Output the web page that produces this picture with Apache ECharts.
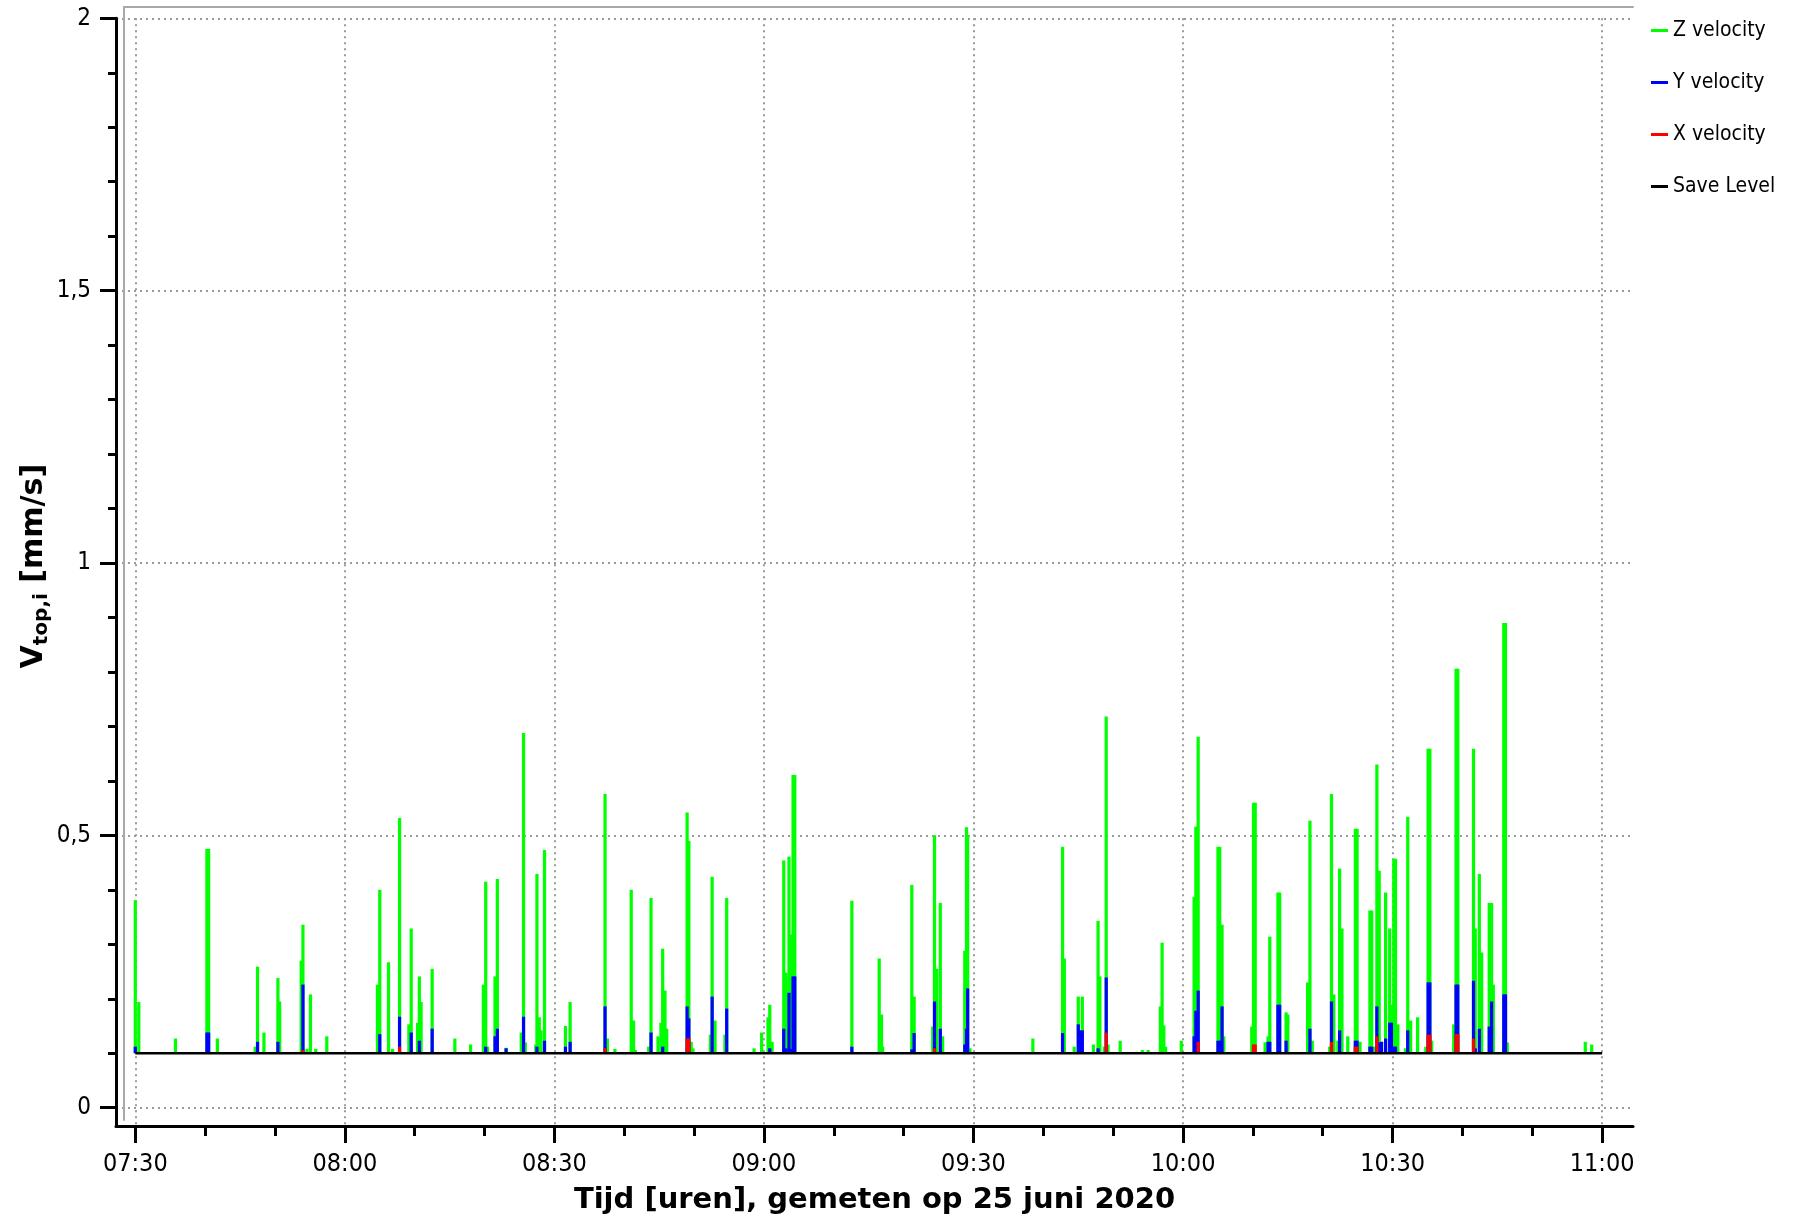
<!DOCTYPE html>
<html>
<head>
<meta charset="utf-8">
<script src="https://cdn.jsdelivr.net/npm/echarts@6/dist/echarts.min.js"></script>
<style>
html,body{margin:0;padding:0;background:#fff;}
#chart{width:1796px;height:1220px;}
</style>
</head>
<body>
<div id="chart"></div>
<script>
// ---- data (time hh:mm:ss, peak velocity mm/s) ----
const zVelocity = [
["07:30:00",0.381],["07:30:30",0.194],["07:35:45",0.127],["07:40:15",0.475],["07:40:30",0.475],["07:41:45",0.127],["07:47:10",0.112],["07:47:30",0.259],["07:48:25",0.138],["07:50:25",0.238],["07:50:40",0.195],["07:53:45",0.270],["07:54:00",0.336],["07:54:35",0.108],["07:55:05",0.208],["07:55:50",0.108],["07:57:25",0.131],
["08:04:40",0.226],["08:05:00",0.400],["08:06:15",0.267],["08:06:50",0.108],["08:07:50",0.532],["08:09:10",0.153],["08:09:30",0.329],["08:10:25",0.156],["08:10:40",0.241],["08:10:55",0.194],["08:12:30",0.255],["08:15:45",0.127],["08:18:00",0.116],["08:19:50",0.226],["08:20:10",0.415],["08:20:25",0.112],["08:21:30",0.241],["08:21:50",0.420],["08:23:05",0.110],["08:25:15",0.138],["08:25:35",0.688],["08:25:50",0.120],["08:27:20",0.116],["08:27:30",0.429],["08:27:50",0.166],["08:28:05",0.142],["08:28:35",0.473],["08:31:35",0.150],["08:32:15",0.194],["08:37:15",0.576],["08:37:35",0.127],["08:38:40",0.108],["08:41:00",0.400],["08:41:20",0.160],["08:41:35",0.106],["08:43:30",0.112],["08:43:50",0.385],["08:44:50",0.131],["08:45:15",0.156],["08:45:30",0.292],["08:45:50",0.215],["08:46:05",0.145],["08:49:00",0.542],["08:49:15",0.490],["08:49:35",0.121],["08:49:50",0.109],["08:52:20",0.134],["08:52:35",0.424],["08:53:00",0.160],["08:54:25",0.134],["08:54:40",0.385],["08:58:35",0.109],["08:59:40",0.138],
["09:00:35",0.166],["09:00:50",0.189],["09:01:10",0.121],["09:02:50",0.454],["09:03:10",0.248],["09:03:35",0.461],["09:03:50",0.318],["09:04:10",0.611],["09:04:25",0.611],["09:12:35",0.380],["09:16:30",0.274],["09:16:50",0.171],["09:17:00",0.112],["09:21:10",0.409],["09:21:30",0.204],["09:24:10",0.149],["09:24:25",0.500],["09:24:45",0.255],["09:25:15",0.376],["09:25:35",0.131],["09:28:45",0.288],["09:29:00",0.515],["09:29:10",0.500],["09:29:30",0.109],["09:38:30",0.127],["09:42:45",0.479],["09:43:00",0.274],["09:44:25",0.112],["09:45:00",0.204],["09:45:15",0.142],["09:45:35",0.204],["09:47:10",0.116],["09:47:50",0.343],["09:48:05",0.241],["09:48:45",0.112],["09:49:00",0.718],["09:49:15",0.116],["09:51:00",0.123],["09:54:10",0.106],["09:55:00",0.106],["09:56:45",0.186],["09:57:00",0.303],["09:57:15",0.151],["09:57:30",0.112],["09:59:45",0.123],
["10:01:35",0.387],["10:01:50",0.516],["10:02:10",0.681],["10:05:00",0.479],["10:05:15",0.479],["10:05:35",0.336],["10:05:50",0.131],["10:09:50",0.149],["10:10:05",0.560],["10:10:20",0.560],["10:11:45",0.120],["10:12:10",0.131],["10:12:25",0.314],["10:13:35",0.395],["10:13:50",0.395],["10:14:45",0.175],["10:15:00",0.171],["10:17:50",0.230],["10:18:10",0.527],["10:18:30",0.123],["10:21:00",0.112],["10:21:15",0.576],["10:21:35",0.208],["10:22:10",0.123],["10:22:25",0.439],["10:22:45",0.329],["10:23:35",0.131],["10:24:40",0.512],["10:24:55",0.512],["10:25:20",0.121],["10:26:45",0.362],["10:27:00",0.362],["10:27:15",0.112],["10:27:45",0.630],["10:28:05",0.435],["10:28:25",0.121],["10:29:00",0.395],["10:29:35",0.329],["10:29:50",0.189],["10:30:10",0.457],["10:30:25",0.457],["10:30:45",0.153],["10:31:50",0.109],["10:32:10",0.534],["10:32:35",0.160],["10:33:35",0.166],["10:34:45",0.112],["10:35:05",0.659],["10:35:20",0.659],["10:35:35",0.123],["10:38:45",0.153],["10:39:05",0.806],["10:39:20",0.806],["10:41:35",0.659],["10:41:50",0.329],["10:42:25",0.429],["10:42:45",0.285],["10:43:50",0.376],["10:44:10",0.376],["10:44:25",0.226],["10:45:55",0.890],["10:46:10",0.890],["10:46:25",0.120],["10:57:35",0.121],["10:58:30",0.116]
];
const yVelocity = [
["07:30:00",0.112],["07:40:15",0.138],["07:40:30",0.138],["07:47:30",0.121],["07:50:25",0.121],["07:54:00",0.226],["08:05:00",0.135],["08:07:50",0.167],["08:09:30",0.138],["08:10:40",0.123],["08:12:30",0.145],["08:20:10",0.112],["08:21:30",0.131],["08:21:50",0.145],["08:23:05",0.109],["08:25:35",0.167],["08:27:30",0.112],["08:28:35",0.123],["08:31:35",0.112],["08:32:15",0.121],["08:37:15",0.186],["08:43:50",0.138],["08:45:30",0.112],["08:49:00",0.186],["08:49:15",0.164],["08:52:35",0.204],["08:54:40",0.182],
["09:00:50",0.109],["09:02:50",0.145],["09:03:10",0.109],["09:03:35",0.211],["09:03:50",0.108],["09:04:10",0.241],["09:04:25",0.241],["09:12:35",0.112],["09:21:10",0.107],["09:21:30",0.137],["09:24:25",0.195],["09:25:15",0.145],["09:28:45",0.116],["09:29:00",0.145],["09:29:10",0.219],["09:42:45",0.137],["09:45:00",0.153],["09:45:15",0.142],["09:45:35",0.142],["09:47:50",0.109],["09:49:00",0.239],
["10:01:35",0.131],["10:01:50",0.178],["10:02:10",0.215],["10:05:00",0.123],["10:05:15",0.123],["10:05:35",0.186],["10:12:10",0.121],["10:12:25",0.121],["10:13:35",0.189],["10:13:50",0.189],["10:14:45",0.123],["10:18:10",0.145],["10:21:15",0.195],["10:22:25",0.142],["10:24:40",0.123],["10:24:55",0.123],["10:26:45",0.112],["10:27:00",0.112],["10:27:45",0.186],["10:28:05",0.120],["10:28:25",0.121],["10:29:00",0.127],["10:29:35",0.156],["10:29:50",0.156],["10:30:10",0.112],["10:30:25",0.112],["10:32:10",0.142],["10:35:05",0.230],["10:35:20",0.230],["10:39:05",0.226],["10:39:20",0.226],["10:41:35",0.233],["10:41:50",0.109],["10:42:25",0.145],["10:43:50",0.149],["10:44:10",0.195],["10:45:55",0.208],["10:46:10",0.208]
];
const xVelocity = [
["07:54:00",0.106],["08:07:50",0.112],["08:37:15",0.109],["08:49:00",0.127],["08:49:15",0.127],["09:24:25",0.109],["09:49:00",0.138],["10:02:10",0.121],["10:10:05",0.116],["10:10:20",0.116],["10:21:15",0.121],["10:24:40",0.112],["10:24:55",0.112],["10:27:45",0.131],["10:35:05",0.134],["10:35:20",0.134],["10:39:05",0.135],["10:39:20",0.135],["10:41:35",0.127]
];
const saveLevel = 0.1;
const saveLevelSpan = ["07:30:00","11:00:00"];
const xTickLabels = ["07:30","08:00","08:30","09:00","09:30","10:00","10:30","11:00"];
const xMinorTicks = ["07:40","07:50","08:10","08:20","08:40","08:50","09:10","09:20","09:40","09:50","10:10","10:20","10:40","10:50"];
const yTicks = [0, 0.5, 1, 1.5, 2];
const yMinorTicks = [0.1,0.2,0.3,0.4,0.6,0.7,0.8,0.9,1.1,1.2,1.3,1.4,1.6,1.7,1.8,1.9];

// ---- helpers ----
function toMin(s){ const p=s.split(':').map(Number); return p[0]*60+p[1]+(p[2]||0)/60; }
function fmt(m){ const h=Math.floor(m/60), mm=Math.round(m-h*60); return String(h).padStart(2,'0')+':'+String(mm).padStart(2,'0'); }
const HALF = 0.23; // half sample width in minutes
function render(color){
  return function(params, api){
    const t = api.value(0), v = api.value(1);
    const p0 = api.coord([t-HALF, saveLevel]);
    const p1 = api.coord([t+HALF, v]);
    return {type:'rect', shape:{x:p0[0], y:p1[1], width:p1[0]-p0[0], height:p0[1]-p1[1]}, style:{fill:color}};
  };
}
const FONT = "'DejaVu Sans Condensed', 'DejaVu Sans', sans-serif";
const TITLE_FONT = "'DejaVu Sans', sans-serif";
const PXMIN = 6.985;
const X_MIN = 450 - (135.3-116)/PXMIN, X_MAX = 450 + (1633-135.3)/PXMIN;
const Y_MIN = -0.0336, Y_MAX = 2;
const dotted = {show:true, lineStyle:{color:'#9a9a9a', width:2, type:[2,4]}};

const chart = echarts.init(document.getElementById('chart'), null, {renderer:'canvas'});
chart.setOption({
  animation:false,
  backgroundColor:'#fff',
  textStyle:{fontFamily:FONT},
  grid:[
    {left:116, right:163, top:18.3, bottom:93},
    {left:124, right:163, top:7, bottom:100}
  ],
  legend:{
    orient:'vertical', left:1646, top:15, itemWidth:17, itemHeight:3, itemGap:31,
    textStyle:{fontFamily:FONT, fontSize:21, color:'#000', lineHeight:21},
    data:[
      {name:'Z velocity', icon:'rect', itemStyle:{color:'#00ff00'}},
      {name:'Y velocity', icon:'rect', itemStyle:{color:'#0000ff'}},
      {name:'X velocity', icon:'rect', itemStyle:{color:'#ff0000'}},
      {name:'Save Level', icon:'rect', itemStyle:{color:'#000'}}
    ]
  },
  xAxis:[
    {type:'value', gridIndex:0, position:'bottom', min:X_MIN, max:X_MAX,
     axisLine:{show:true, onZero:false, lineStyle:{color:'#000', width:3}},
     axisTick:{show:true, length:17, customValues:xTickLabels.map(toMin), lineStyle:{color:'#000', width:3}},
     axisLabel:{show:true, customValues:xTickLabels.map(toMin), formatter:fmt, fontSize:25, margin:26, color:'#000', fontFamily:FONT},
     splitLine:dotted,
     name:'Tijd [uren], gemeten op 25 juni 2020', nameLocation:'middle', nameGap:60, nameMoveOverlap:false,
     nameTextStyle:{fontFamily:TITLE_FONT, fontSize:29, fontWeight:'bold', color:'#000'}},
    {type:'value', gridIndex:0, position:'bottom', min:X_MIN, max:X_MAX,
     axisLine:{show:false, onZero:false},
     axisTick:{show:true, length:10, customValues:xMinorTicks.map(toMin), lineStyle:{color:'#000', width:3}},
     axisLabel:{show:false}, splitLine:{show:false}},
    {type:'value', gridIndex:1, position:'top', min:0, max:1,
     axisLine:{show:true, onZero:false, lineStyle:{color:'#a8a8a8', width:2}},
     axisTick:{show:false}, axisLabel:{show:false}, splitLine:{show:false}}
  ],
  yAxis:[
    {type:'value', gridIndex:0, position:'left', min:Y_MIN, max:Y_MAX,
     axisLine:{show:true, onZero:false, lineStyle:{color:'#000', width:3}},
     axisTick:{show:true, length:16, customValues:yTicks, lineStyle:{color:'#000', width:3}},
     axisLabel:{show:true, customValues:yTicks, formatter:v=>String(v).replace('.',','), fontSize:24, margin:25, color:'#000', fontFamily:FONT},
     splitLine:dotted,
     name:'{v|V}{s|top,i}{v| [mm/s]}', nameLocation:'middle', nameRotate:90, nameGap:64, nameMoveOverlap:false,
     nameTextStyle:{padding:[0,0,0,12], rich:{
       v:{fontFamily:TITLE_FONT, fontSize:30, fontWeight:'bold', color:'#000'},
       s:{fontFamily:TITLE_FONT, fontSize:20, fontWeight:'bold', color:'#000', padding:[15,0,0,0]}
     }}},
    {type:'value', gridIndex:0, position:'left', min:Y_MIN, max:Y_MAX,
     axisLine:{show:false, onZero:false},
     axisTick:{show:true, length:8, customValues:yMinorTicks, lineStyle:{color:'#000', width:3}},
     axisLabel:{show:false}, splitLine:{show:false}},
    {type:'value', gridIndex:1, position:'left', min:0, max:1,
     axisLine:{show:true, onZero:false, lineStyle:{color:'#a8a8a8', width:2}},
     axisTick:{show:false}, axisLabel:{show:false}, splitLine:{show:false}}
  ],
  series:[
    {name:'Z velocity', type:'custom', xAxisIndex:0, yAxisIndex:0, renderItem:render('#00ff00'),
     encode:{x:0,y:1}, data:zVelocity.map(d=>[toMin(d[0]), d[1]]), itemStyle:{color:'#00ff00'}, z:2},
    {name:'Y velocity', type:'custom', xAxisIndex:0, yAxisIndex:0, renderItem:render('#0000ff'),
     encode:{x:0,y:1}, data:yVelocity.map(d=>[toMin(d[0]), d[1]]), itemStyle:{color:'#0000ff'}, z:3},
    {name:'X velocity', type:'custom', xAxisIndex:0, yAxisIndex:0, renderItem:render('#ff0000'),
     encode:{x:0,y:1}, data:xVelocity.map(d=>[toMin(d[0]), d[1]]), itemStyle:{color:'#ff0000'}, z:4},
    {name:'Save Level', type:'line', xAxisIndex:0, yAxisIndex:0, symbol:'none', silent:true,
     lineStyle:{color:'#000', width:2.5}, itemStyle:{color:'#000'}, z:5,
     data:saveLevelSpan.map(t=>[toMin(t), saveLevel])}
  ]
});
</script>
</body>
</html>
